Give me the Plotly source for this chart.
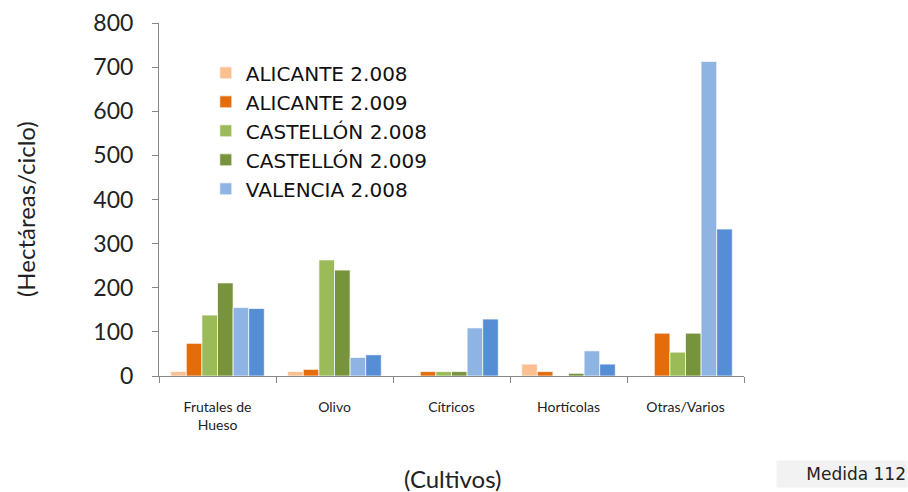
import plotly.graph_objects as go

categories = ["Frutales de<br>Hueso", "Olivo", "Cítricos", "Hortícolas", "Otras/Varios"]

alicante_2008 = [10, 10, 0, 27, 0]
alicante_2009 = [74, 15, 10, 10, 97]
castellon_2008 = [138, 263, 10, 0, 54]
castellon_2009 = [211, 240, 10, 6, 97]
valencia_2008 = [155, 42, 109, 57, 713]
valencia_2009 = [153, 48, 129, 27, 333]

series = [
    ("ALICANTE 2.008", alicante_2008, "#FAC090", True),
    ("ALICANTE 2.009", alicante_2009, "#E46C0A", True),
    ("CASTELLÓN 2.008", castellon_2008, "#9BBB59", True),
    ("CASTELLÓN 2.009", castellon_2009, "#77933C", True),
    ("VALENCIA 2.008", valencia_2008, "#8EB4E3", True),
    ("VALENCIA 2.009", valencia_2009, "#558ED5", False),
]

fig = go.Figure()
for i, (name, vals, color, show) in enumerate(series):
    fig.add_trace(go.Bar(
        x=categories, y=vals, name=name,
        marker=dict(color=color, line=dict(color="white", width=0.7)),
        showlegend=show, legendgroup=f"g{i}",
    ))

fig.update_layout(
    width=908, height=492,
    margin=dict(l=159, r=164, t=23, b=116),
    paper_bgcolor="white", plot_bgcolor="white",
    barmode="group", bargap=0.2, bargroupgap=0,
    font=dict(family="Lato, sans-serif", color="#222"),
    legend=dict(
        x=0.08, y=0.914, xanchor="left", yanchor="top",
        font=dict(family="DejaVu Sans", size=20, color="#111"),
        bgcolor="rgba(0,0,0,0)", traceorder="grouped", tracegroupgap=0,
    ),
    xaxis=dict(
        type="category", tickson="boundaries", ticks="outside", ticklen=6,
        tickcolor="#868686", showline=True, linecolor="#868686", linewidth=1,
        showgrid=False, tickfont=dict(size=14, family="Lato, sans-serif", color="#222"),
        ticklabelstandoff=18, automargin=False,
    ),
    yaxis=dict(
        range=[0, 800], dtick=100, ticks="outside", ticklen=6, tickcolor="#868686",
        showline=True, linecolor="#868686", linewidth=1, showgrid=False, zeroline=False,
        tickfont=dict(size=23, family="Lato, sans-serif", color="#222"),
        ticklabelstandoff=14, automargin=False,
    ),
    annotations=[
        dict(text="(Cultivos)", xref="paper", yref="paper", x=0.5026, y=-0.289,
             xanchor="center", yanchor="middle", showarrow=False,
             font=dict(size=24, family="Lato, sans-serif", color="#222")),
        dict(text="(Hectáreas/ciclo)", xref="paper", yref="paper", x=-0.229, y=0.473,
             xanchor="center", yanchor="middle", showarrow=False, textangle=-90,
             font=dict(size=24, family="Lato, sans-serif", color="#222")),
        dict(text="Medida 112", xref="paper", yref="paper", x=1.2803, y=-0.2776,
             xanchor="right", yanchor="middle", showarrow=False,
             font=dict(family="DejaVu Sans", size=17, color="#222"),
             bgcolor="#F2F2F2", width=128, height=24, align="right"),
    ],
)

fig.write_html("out.html", config={"displayModeBar": False},
               post_script="document.body.style.margin='0';document.body.style.overflow='hidden';")
